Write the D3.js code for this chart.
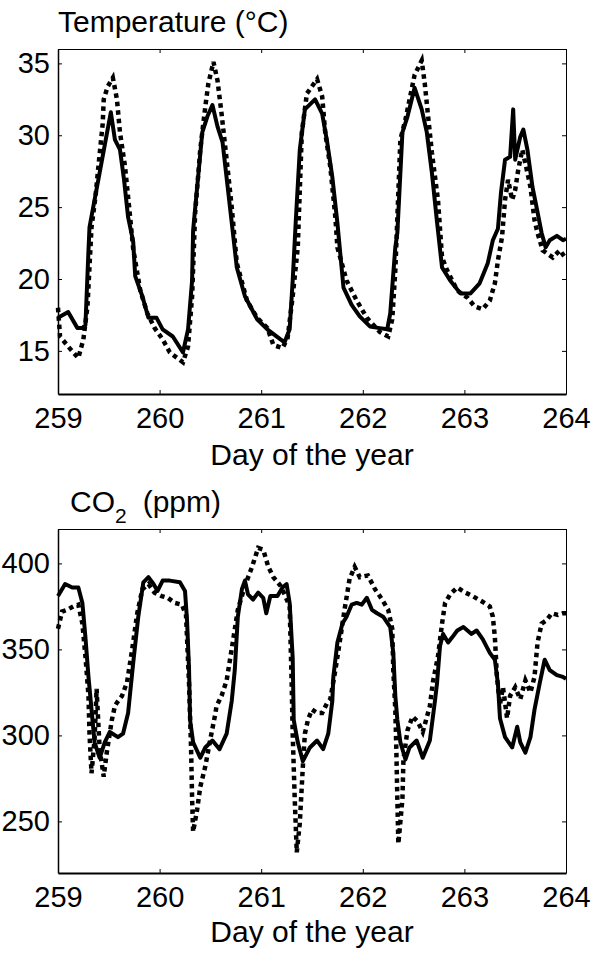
<!DOCTYPE html>
<html>
<head>
<meta charset="utf-8">
<script src="https://d3js.org/d3.v7.min.js"></script>
<style>
  body { margin: 0; background: #fff; }
  svg text { font-family: "Liberation Sans", Arial, sans-serif; fill: #000; }
</style>
</head>
<body>
<div id="chart"></div>
<script>
// x ticks shared by both panels
const dayTicks = [259, 260, 261, 262, 263, 264];
const tempTicks = [15, 20, 25, 30, 35];
const co2Ticks = [250, 300, 350, 400];

// temperature, solid line
const tempSolidDay = [259.00, 259.10, 259.19, 259.24, 259.27, 259.30, 259.31, 259.36, 259.41, 259.47, 259.52, 259.56, 259.61, 259.65, 259.69, 259.74, 259.76, 259.83, 259.89, 259.97, 260.03, 260.13, 260.23, 260.28, 260.32, 260.33, 260.37, 260.42, 260.47, 260.52, 260.57, 260.62, 260.67, 260.72, 260.76, 260.84, 260.96, 261.06, 261.19, 261.23, 261.28, 261.31, 261.34, 261.38, 261.43, 261.53, 261.60, 261.65, 261.70, 261.75, 261.81, 261.89, 261.97, 262.07, 262.15, 262.24, 262.27, 262.32, 262.34, 262.39, 262.44, 262.51, 262.58, 262.63, 262.68, 262.73, 262.78, 262.86, 262.96, 263.06, 263.15, 263.23, 263.28, 263.33, 263.36, 263.40, 263.45, 263.48, 263.50, 263.55, 263.58, 263.62, 263.67, 263.71, 263.76, 263.80, 263.84, 263.91, 263.97, 264.00];
const tempSolidVal = [17.3, 17.7, 16.6, 16.6, 16.8, 22.0, 23.6, 25.5, 27.4, 29.7, 31.6, 29.7, 29.0, 26.9, 24.3, 22.6, 20.2, 18.8, 17.3, 17.3, 16.5, 16.0, 14.9, 16.5, 19.9, 23.4, 26.4, 30.2, 31.3, 32.1, 30.6, 29.5, 26.4, 23.3, 20.8, 18.8, 17.2, 16.5, 15.8, 15.6, 16.5, 19.9, 24.0, 29.0, 31.8, 32.5, 31.5, 29.5, 27.1, 23.9, 19.4, 18.2, 17.4, 16.7, 16.6, 16.5, 17.6, 22.2, 23.2, 30.2, 31.3, 33.3, 31.8, 30.2, 27.4, 24.0, 20.8, 19.9, 19.0, 19.0, 19.7, 21.1, 22.7, 23.5, 26.0, 28.3, 28.5, 31.8, 28.3, 29.9, 30.4, 29.0, 26.4, 25.0, 23.2, 22.2, 22.7, 23.0, 22.7, 22.8];

// temperature, dotted line
const tempDotDay = [259.00, 259.02, 259.10, 259.20, 259.25, 259.29, 259.33, 259.37, 259.40, 259.44, 259.45, 259.49, 259.54, 259.58, 259.61, 259.66, 259.71, 259.74, 259.81, 259.88, 259.95, 260.03, 260.10, 260.23, 260.28, 260.32, 260.35, 260.40, 260.45, 260.48, 260.53, 260.57, 260.61, 260.66, 260.71, 260.76, 260.86, 260.96, 261.06, 261.12, 261.21, 261.26, 261.31, 261.36, 261.40, 261.45, 261.55, 261.60, 261.63, 261.68, 261.73, 261.75, 261.84, 261.94, 262.04, 262.17, 262.25, 262.29, 262.32, 262.37, 262.42, 262.51, 262.58, 262.61, 262.64, 262.68, 262.74, 262.78, 262.83, 262.93, 263.03, 263.10, 263.18, 263.25, 263.30, 263.33, 263.37, 263.40, 263.43, 263.47, 263.50, 263.53, 263.57, 263.62, 263.65, 263.69, 263.72, 263.77, 263.87, 263.94, 264.00];
const tempDotVal = [18.0, 16.0, 15.3, 14.5, 15.8, 18.1, 23.6, 25.8, 28.0, 30.8, 32.5, 33.4, 34.0, 32.5, 30.2, 27.8, 24.3, 22.1, 19.2, 17.6, 16.6, 15.8, 14.9, 14.2, 15.3, 18.8, 24.6, 29.0, 32.0, 33.6, 35.1, 33.8, 31.5, 28.3, 25.0, 21.1, 18.5, 17.3, 16.6, 15.4, 15.2, 15.9, 18.8, 22.2, 30.2, 32.9, 33.9, 32.7, 30.2, 27.8, 24.3, 22.2, 19.9, 18.5, 17.3, 16.3, 16.0, 17.2, 20.6, 29.7, 31.1, 34.2, 35.2, 33.6, 31.5, 28.8, 25.5, 21.5, 20.6, 19.2, 18.7, 18.1, 17.9, 18.5, 19.7, 21.3, 22.9, 25.5, 26.9, 25.5, 26.2, 27.6, 29.0, 27.4, 26.4, 24.1, 23.2, 22.0, 21.5, 22.0, 21.4];

// CO2, solid line
const co2SolidDay = [259.00, 259.07, 259.14, 259.20, 259.24, 259.27, 259.30, 259.36, 259.41, 259.46, 259.51, 259.59, 259.64, 259.69, 259.74, 259.79, 259.84, 259.89, 259.94, 259.98, 260.03, 260.10, 260.20, 260.25, 260.27, 260.29, 260.30, 260.33, 260.40, 260.45, 260.52, 260.59, 260.66, 260.71, 260.74, 260.77, 260.81, 260.84, 260.87, 260.92, 260.97, 261.02, 261.05, 261.09, 261.16, 261.21, 261.25, 261.28, 261.31, 261.32, 261.36, 261.41, 261.48, 261.55, 261.61, 261.66, 261.70, 261.71, 261.75, 261.80, 261.84, 261.89, 261.94, 261.99, 262.04, 262.09, 262.14, 262.20, 262.27, 262.30, 262.32, 262.34, 262.37, 262.42, 262.46, 262.53, 262.59, 262.66, 262.71, 262.73, 262.76, 262.79, 262.84, 262.88, 262.93, 262.99, 263.07, 263.12, 263.18, 263.25, 263.30, 263.33, 263.35, 263.40, 263.47, 263.52, 263.55, 263.60, 263.65, 263.69, 263.74, 263.79, 263.84, 263.91, 263.97, 264.00];
const co2SolidVal = [381, 388, 386, 386, 377, 357, 334, 296, 287, 296, 302, 299, 301, 313, 342, 369, 389, 392, 388, 384, 390, 390, 389, 384, 367, 338, 309, 296, 287, 293, 297, 292, 301, 320, 338, 369, 385, 390, 382, 379, 383, 380, 371, 381, 381, 386, 388, 377, 345, 309, 296, 285, 293, 297, 292, 301, 320, 334, 354, 365, 369, 376, 377, 376, 380, 373, 371, 369, 363, 348, 323, 309, 296, 286, 293, 297, 287, 297, 320, 330, 352, 359, 354, 357, 361, 363, 359, 361, 356, 348, 344, 330, 310, 299, 293, 305, 296, 290, 299, 315, 330, 344, 338, 335, 334, 333];

// CO2, dotted line
const co2DotDay = [259.00, 259.04, 259.09, 259.15, 259.20, 259.24, 259.27, 259.30, 259.31, 259.33, 259.36, 259.38, 259.41, 259.45, 259.48, 259.53, 259.56, 259.58, 259.63, 259.68, 259.73, 259.78, 259.83, 259.89, 259.95, 260.02, 260.08, 260.15, 260.22, 260.26, 260.29, 260.31, 260.32, 260.33, 260.37, 260.40, 260.45, 260.50, 260.55, 260.56, 260.61, 260.66, 260.72, 260.77, 260.84, 260.91, 260.97, 261.02, 261.07, 261.12, 261.19, 261.23, 261.28, 261.30, 261.31, 261.33, 261.35, 261.38, 261.41, 261.43, 261.46, 261.50, 261.55, 261.60, 261.65, 261.68, 261.73, 261.78, 261.82, 261.87, 261.92, 261.97, 262.05, 262.12, 262.19, 262.25, 262.29, 262.30, 262.32, 262.33, 262.34, 262.35, 262.39, 262.40, 262.44, 262.49, 262.54, 262.59, 262.66, 262.69, 262.74, 262.78, 262.81, 262.86, 262.93, 263.01, 263.08, 263.17, 263.25, 263.28, 263.30, 263.31, 263.32, 263.35, 263.38, 263.42, 263.45, 263.50, 263.55, 263.60, 263.65, 263.69, 263.72, 263.76, 263.81, 263.86, 263.92, 263.97, 264.00];
const co2DotVal = [362, 372, 373, 375, 376, 365, 346, 323, 301, 278, 298, 327, 292, 276, 290, 309, 317, 319, 323, 331, 350, 371, 385, 388, 383, 381, 380, 377, 376, 370, 330, 292, 263, 244, 257, 270, 282, 298, 313, 317, 323, 332, 354, 373, 387, 398, 409, 408, 398, 392, 387, 382, 375, 330, 301, 263, 232, 249, 282, 301, 309, 315, 313, 313, 319, 321, 338, 357, 373, 391, 398, 392, 393, 385, 379, 373, 362, 338, 315, 292, 263, 237, 263, 286, 303, 311, 308, 302, 317, 331, 346, 365, 377, 382, 386, 383, 381, 378, 375, 369, 357, 346, 334, 318, 328, 310, 323, 328, 321, 332, 325, 334, 354, 365, 367, 371, 370, 371, 371];

const W = 593, H = 954;
const plotLeft = 58, plotRight = 566;

const svg = d3.select("#chart").append("svg")
  .attr("width", W)
  .attr("height", H);

const x = d3.scaleLinear().domain([259, 264]).range([plotLeft, plotRight]);

function zip(days, vals) {
  return days.map((d, i) => [d, vals[i]]);
}

// draws one panel: box, ticks, labels, two lines
function panel(cfg) {
  const y = d3.scaleLinear().domain(cfg.yDomain).range([cfg.bottom, cfg.top]);
  const g = svg.append("g");

  // axes (ticks point inward)
  g.append("g")
    .attr("transform", `translate(0,${cfg.bottom})`)
    .call(d3.axisBottom(x).tickValues(dayTicks).tickSizeInner(-4).tickSizeOuter(0).tickPadding(13).tickFormat(d3.format("d")))
    .call(a => a.select(".domain").attr("stroke-width", 2));
  g.append("g")
    .attr("transform", `translate(0,${cfg.top})`)
    .call(d3.axisTop(x).tickValues(dayTicks).tickSizeInner(-4).tickSizeOuter(0).tickFormat(""));
  g.append("g")
    .attr("transform", `translate(${plotLeft},0)`)
    .call(d3.axisLeft(y).tickValues(cfg.ticks).tickSizeInner(-4).tickSizeOuter(0).tickPadding(8))
    .call(a => a.select(".domain").attr("stroke-width", 1.5));
  g.append("g")
    .attr("transform", `translate(${plotRight},0)`)
    .call(d3.axisRight(y).tickValues(cfg.ticks).tickSizeInner(-4).tickSizeOuter(0).tickFormat(""));

  g.selectAll(".tick text")
    .style("font-size", "29px")
    .style("font-family", '"Liberation Sans", Arial, sans-serif');
  g.selectAll(".domain, .tick line").attr("stroke", "#000");

  const line = d3.line().x(d => x(d[0])).y(d => y(d[1]));

  g.append("path")
    .datum(zip(cfg.solidDay, cfg.solidVal))
    .attr("d", line)
    .attr("fill", "none")
    .attr("stroke", "#000")
    .attr("stroke-width", 4)
    .attr("stroke-linejoin", "round");

  g.append("path")
    .datum(zip(cfg.dotDay, cfg.dotVal))
    .attr("d", line)
    .attr("fill", "none")
    .attr("stroke", "#000")
    .attr("stroke-width", 4.5)
    .attr("stroke-dasharray", "4.5,4");

  // x label
  g.append("text")
    .attr("x", (plotLeft + plotRight) / 2)
    .attr("y", cfg.xLabelY)
    .attr("text-anchor", "middle")
    .style("font-size", "30px")
    .text("Day of the year");

  return g;
}

const tempPanel = panel({
  top: 49, bottom: 394, yDomain: [12, 36], ticks: tempTicks,
  solidDay: tempSolidDay, solidVal: tempSolidVal,
  dotDay: tempDotDay, dotVal: tempDotVal,
  xLabelY: 465
});
tempPanel.append("text")
  .attr("x", 58)
  .attr("y", 32)
  .style("font-size", "30px")
  .text("Temperature (°C)");

const co2Panel = panel({
  top: 529, bottom: 873, yDomain: [220, 420], ticks: co2Ticks,
  solidDay: co2SolidDay, solidVal: co2SolidVal,
  dotDay: co2DotDay, dotVal: co2DotVal,
  xLabelY: 942
});
const co2Title = co2Panel.append("text")
  .attr("x", 70)
  .attr("y", 512)
  .style("font-size", "30px");
co2Title.append("tspan").text("CO");
co2Title.append("tspan").attr("dy", 11).style("font-size", "21px").text("2");
co2Title.append("tspan").attr("dy", -11).attr("dx", 16).text("(ppm)");
</script>
</body>
</html>
